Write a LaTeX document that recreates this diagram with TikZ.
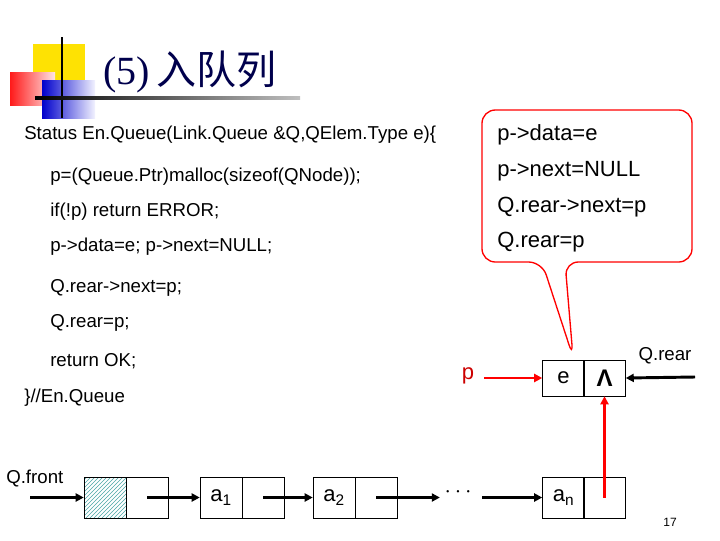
\documentclass[tikz,border=0pt]{standalone}
\usepackage{fontspec}
\setmainfont{Liberation Sans}
\newfontfamily\cjk{Noto Sans CJK SC}
\newfontfamily\serifx{Liberation Serif}
\usetikzlibrary{arrows.meta,patterns,shapes.callouts}
\begin{document}
\begin{tikzpicture}[x=0.75pt,y=-0.75pt,
  code/.style={anchor=west,inner sep=0,font=\fontsize{14}{16}\selectfont},
  big/.style={anchor=west,inner sep=0,font=\fontsize{16.5}{19}\selectfont},
  cell/.style={draw,minimum width=31.5pt,minimum height=30.75pt,inner sep=0,font=\fontsize{16.5}{19}\selectfont},
  arr/.style={line width=2.2pt,-{Triangle[length=6pt,width=6pt]}},
  rarr/.style={arr,red}]
\useasboundingbox (0,0) rectangle (720,540);
% logo
\fill[yellow!85!orange] (33,44) rectangle (85,92);
\shade[left color=red!90, right color=red!10] (10,72) rectangle (55,105);
\shade[left color=blue!80!black, right color=blue!5] (42,80) rectangle (95,118);
\draw[line width=1.5pt] (62,37) -- (62,118);
\shade[left color=black, right color=black!25] (35,96.5) rectangle (300,99.5);
\node[anchor=west,inner sep=0,text=blue!30!black,font=\fontsize{30}{32}\selectfont] (title) at (103,72) {\serifx(5)\,\cjk 入队列};
% code
\node[code] (c1) at (24,135) {Status En.Queue(Link.Queue \&Q,QElem.Type e)\{};
\node[code] (c2) at (50,177) {p=(Queue.Ptr)malloc(sizeof(QNode));};
\node[code] (c3) at (50,212) {if(!p) return ERROR;};
\node[code] (c4) at (50,247) {p->data=e; p->next=NULL;};
\node[code] (c5) at (50,288) {Q.rear->next=p;};
\node[code] (c6) at (50,323) {Q.rear=p;};
\node[code] (c7) at (50,361) {return OK;};
\node[code] (c8) at (24,398) {\}//En.Queue};
% callout
\draw[red,line width=1pt,fill=white,rounded corners=10pt]
  (482,110) -- (692,110) -- (692,262) -- (565,262) -- (573,357) -- (542,262) -- (482,262) -- cycle;
\node[big] (t1) at (497,135) {p->data=e};
\node[big] (t2) at (497,171) {p->next=NULL};
\node[big] (t3) at (497,207) {Q.rear->next=p};
\node[big] (t4) at (497,242) {Q.rear=p};
% list
\node[cell,pattern=north east lines,pattern color=teal!70] (h1) at (105,497.5) {};
\node[cell] (h2) at (147,497.5) {};
\node[cell] (a1) at (221,497.5) {a\textsubscript{1}};
\node[cell] (a1n) at (263,497.5) {};
\node[cell] (a2) at (334,497.5) {a\textsubscript{2}};
\node[cell] (a2n) at (376,497.5) {};
\node[cell] (an) at (563.5,497.5) {a\textsubscript{n}};
\node[cell] (ann) at (604.5,497.5) {};
\node[cell,minimum height=27pt] (e) at (563.5,378) {e};
\node[cell,minimum height=27pt,font=\bfseries\fontsize{18}{20}\selectfont] (en) at (604.5,378) {Λ};
\node[font=\fontsize{16.5}{19}\selectfont] (dots) at (458,492) {$\cdots$};
\node[anchor=south west,inner sep=0,font=\fontsize{14}{16}\selectfont] (qf) at (6,487) {Q.front};
\node[font=\fontsize{14}{16}\selectfont] (qr) at (665,356) {Q.rear};
\node[text=red!80!black,font=\fontsize{16.5}{19}\selectfont] (p) at (468,376) {p};
\node[font=\fontsize{9}{10}\selectfont] (pg) at (670,522) {17};
\coordinate (qfs) at (30,497.5);
\coordinate (qrs) at (695,377);
\coordinate (ps) at (484,378);
\draw[arr] (qfs) -- (h1.west);
\draw[arr] (h2.center) -- (a1.west);
\draw[arr] (a1n.center) -- (a2.west);
\draw[arr] (a2n.center) -- (dots.west |- a2n) ;
\draw[arr] (dots.east |- an) ++(6,0) -- (an.west);
\draw[arr] (qrs) -- (en.east);
\draw[rarr] (ps) -- (e.west);
\draw[rarr] (ann.center) -- (en.south);
\end{tikzpicture}
\end{document}
